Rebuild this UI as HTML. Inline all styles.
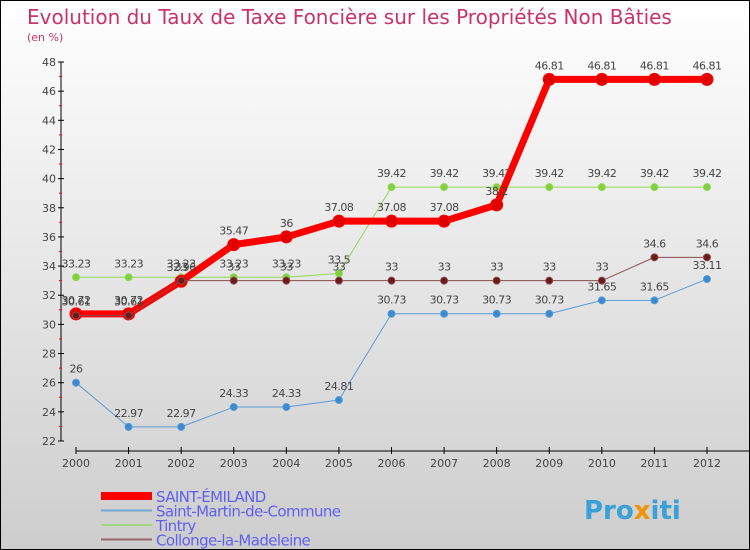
<!DOCTYPE html>
<html><head><meta charset="utf-8"><style>
body{margin:0}
#c{width:750px;height:550px;position:relative;box-sizing:border-box;border:1px solid #000;background:linear-gradient(#fff,#cdcdcd);font-family:"DejaVu Sans","Liberation Sans",sans-serif;overflow:hidden}
</style></head><body>
<div id="c">
<svg id="s" width="748" height="548" style="position:absolute;left:0;top:0">
<text x="26" y="23" font-size="20" fill="#c8336a">Evolution du Taux de Taxe Foncière sur les Propriétés Non Bâties</text>
<text x="26" y="40" font-size="11" fill="#c8336a">(en %)</text>
<g id="axes"></g><g id="series"></g><g id="legend"></g>
<text x="583" y="518" font-size="26" font-weight="bold" fill="#3aa0d8">Pro<tspan fill="#f39200">x</tspan>iti</text>
</svg></div>
<script>
const years=[2000,2001,2002,2003,2004,2005,2006,2007,2008,2009,2010,2011,2012];
const yTicks=[22,24,26,28,30,32,34,36,38,40,42,44,46,48];
const names=["SAINT-ÉMILAND","Saint-Martin-de-Commune","Tintry","Collonge-la-Madeleine"];
const emiland=[30.72,30.72,32.96,35.47,36,37.08,37.08,37.08,38.2,46.81,46.81,46.81,46.81];
const martin=[26,22.97,22.97,24.33,24.33,24.81,30.73,30.73,30.73,30.73,31.65,31.65,33.11];
const tintry=[33.23,33.23,33.23,33.23,33.23,33.5,39.42,39.42,39.42,39.42,39.42,39.42,39.42];
const collonge=[30.61,30.61,33,33,33,33,33,33,33,33,33,34.6,34.6];
const NS="http://www.w3.org/2000/svg";
function x(i){return 75+i*(706-75)/(years.length-1);}
function y(v){return 61+(48-v)*(440-61)/(48-22);}
function mk(t,a,p){const e=document.createElementNS(NS,t);for(const k in a)e.setAttribute(k,a[k]);p.appendChild(e);return e;}
const ax=document.getElementById('axes');
let l=mk('line',{x1:60,y1:y(48),x2:60,y2:y(22),stroke:'#000'},ax);

l=mk('line',{x1:75,y1:450,x2:748,y2:450,stroke:'#000'},ax);

yTicks.forEach(v=>{mk('line',{x1:57,x2:63,y1:y(v),y2:y(v),stroke:'#000'},ax);
 if(v<48)mk('line',{x1:58,x2:61,y1:y(v+1),y2:y(v+1),stroke:'#f00'},ax);
 const t=mk('text',{x:55,y:y(v)+4,'font-size':11,fill:'#444','text-anchor':'end'},ax);t.textContent=v;
 });
years.forEach((yr,i)=>{mk('line',{x1:x(i),x2:x(i),y1:446,y2:453,stroke:'#000'},ax);
 const t=mk('text',{x:x(i),y:466,'font-size':11,fill:'#444','text-anchor':'middle'},ax);t.textContent=yr;
 });
const sg=document.getElementById('series');
function draw(d,col,w,r,fill,nm){
 const g=mk('g',{},sg);
 mk('polyline',{points:d.map((v,i)=>x(i)+','+y(v)).join(' '),fill:'none',stroke:col,'stroke-width':w,'stroke-linejoin':'round'},g);
 d.forEach((v,i)=>{const c=mk('circle',{cx:x(i),cy:y(v),r:r,fill:fill,stroke:col,'stroke-width':1},g);
  
  const t=mk('text',{x:x(i),y:y(v)-10,'font-size':11,fill:'#444','text-anchor':'middle','letter-spacing':'-0.5'},g);t.textContent=v;
  });
}
draw(martin,'#5b9bd5',1,3.5,'#3b8ad0','saint-martin-series');
draw(tintry,'#8fd95a',1,3.5,'#80d040','tintry-series');
draw(emiland,'#f00',7,6,'#e00000','saint-emiland-series');
draw(collonge,'#8a4a4a',1,3.5,'#6a1a1a','collonge-series');
const lg=document.getElementById('legend');
const lc=['#f00','#6fa8d0','#a0d880','#9a6868'],lw=[8,2,2,2];
names.forEach((n,i)=>{const yy=493+i*14.5;
 const g=mk('g',{},lg);
 mk('line',{x1:100,x2:151,y1:yy+2,y2:yy+2,stroke:lc[i],'stroke-width':lw[i]},g);
 const t=mk('text',{x:155,y:yy+8,'font-size':15,fill:'#6060f0','letter-spacing':'-0.6'},g);t.textContent=n;});
</script></body></html>
